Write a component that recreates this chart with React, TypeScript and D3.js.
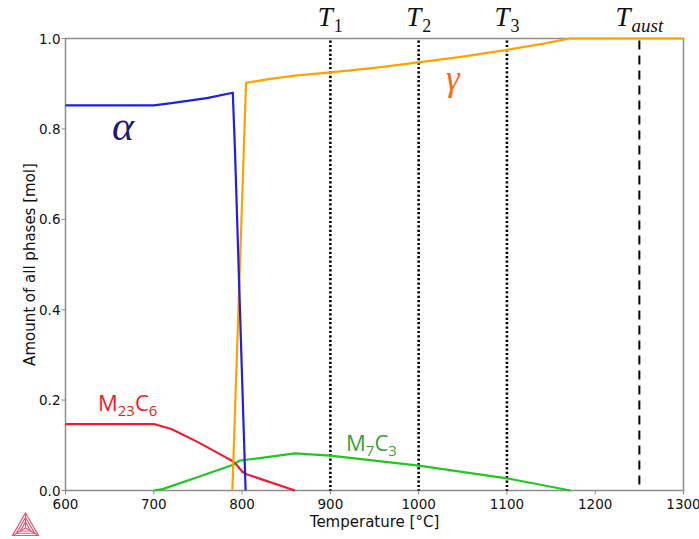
import { useEffect, useRef } from 'react';
import * as d3 from 'd3';

// temperatures [°C] and phase amounts [mol]
const alphaT = [600, 700, 720, 760, 789.5, 792, 804];
const alphaV = [0.852, 0.852, 0.857, 0.868, 0.88, 0.75, 0];

const gammaT = [789, 804.5, 830, 860, 900, 950, 1000, 1050, 1100, 1140, 1171, 1300];
const gammaV = [0, 0.902, 0.91, 0.918, 0.925, 0.935, 0.947, 0.96, 0.975, 0.988, 1.0, 1.0];

const m23c6T = [600, 700, 720, 750, 780, 790, 795, 800, 805, 860];
const m23c6V = [0.147, 0.147, 0.136, 0.107, 0.075, 0.064, 0.054, 0.042, 0.036, 0];

const m7c3T = [700, 710, 750, 790, 797, 805, 860, 900, 1000, 1100, 1172];
const m7c3V = [0, 0.003, 0.03, 0.057, 0.066, 0.068, 0.082, 0.077, 0.055, 0.027, 0];

const markerT = [900, 1000, 1100, 1250];
const markerSub = ['1', '2', '3', 'aust'];

const xTicks = [600, 700, 800, 900, 1000, 1100, 1200, 1300];
const yTicks = [0, 0.2, 0.4, 0.6, 0.8, 1.0];

export default function App() {
  const ref = useRef<SVGSVGElement | null>(null);

  useEffect(() => {
    const width = 699;
    const height = 539;
    const left = 65.5;
    const right = 683.5;
    const top = 38.5;
    const bottom = 490.5;

    const svg = d3.select(ref.current);
    svg.selectAll('*').remove();

    const x = d3.scaleLinear().domain([600, 1300]).range([left, right]);
    const y = d3.scaleLinear().domain([0, 1]).range([bottom, top]);

    const axisColor = '#8c8c8c';
    const tickFont = '"DejaVu Sans", Verdana, sans-serif';

    // frame
    svg
      .append('rect')
      .attr('x', left)
      .attr('y', top)
      .attr('width', right - left)
      .attr('height', bottom - top)
      .attr('fill', 'none')
      .attr('stroke', axisColor)
      .attr('stroke-width', 1.5);

    // x ticks
    const xg = svg.append('g');
    xg.selectAll('line')
      .data(xTicks)
      .enter()
      .append('line')
      .attr('x1', (d) => x(d))
      .attr('x2', (d) => x(d))
      .attr('y1', bottom)
      .attr('y2', bottom + 4)
      .attr('stroke', axisColor)
      .attr('stroke-width', 1);
    xg.selectAll('text')
      .data(xTicks)
      .enter()
      .append('text')
      .attr('x', (d) => x(d))
      .attr('y', bottom + 18)
      .attr('text-anchor', 'middle')
      .style('font-family', tickFont)
      .style('font-size', '13.5px')
      .style('fill', '#111')
      .text((d) => String(d));

    // y ticks
    const yg = svg.append('g');
    yg.selectAll('line')
      .data(yTicks)
      .enter()
      .append('line')
      .attr('x1', left - 4)
      .attr('x2', left)
      .attr('y1', (d) => y(d))
      .attr('y2', (d) => y(d))
      .attr('stroke', axisColor)
      .attr('stroke-width', 1);
    yg.selectAll('text')
      .data(yTicks)
      .enter()
      .append('text')
      .attr('x', left - 5)
      .attr('y', (d) => y(d) + 5)
      .attr('text-anchor', 'end')
      .style('font-family', tickFont)
      .style('font-size', '13.5px')
      .style('fill', '#111')
      .text((d) => d.toFixed(1));

    // axis titles
    svg
      .append('text')
      .attr('x', (left + right) / 2)
      .attr('y', 527)
      .attr('text-anchor', 'middle')
      .style('font-family', tickFont)
      .style('font-size', '15px')
      .style('fill', '#111')
      .text('Temperature [°C]');
    svg
      .append('text')
      .attr('transform', `translate(35,${(top + bottom) / 2}) rotate(-90)`)
      .attr('text-anchor', 'middle')
      .style('font-family', tickFont)
      .style('font-size', '15px')
      .style('fill', '#111')
      .text('Amount of all phases [mol]');

    // vertical marker lines
    markerT.forEach((t, i) => {
      const aust = i === markerT.length - 1;
      svg
        .append('line')
        .attr('x1', x(t))
        .attr('x2', x(t))
        .attr('y1', top + 2)
        .attr('y2', aust ? bottom - 6 : bottom)
        .attr('stroke', '#000')
        .attr('stroke-width', aust ? 2 : 2.6)
        .attr('stroke-dasharray', aust ? '9,6' : '2.2,2.2');
    });

    // marker labels T1, T2, T3, Taust
    const tFont = '"Liberation Serif", "DejaVu Serif", serif';
    markerT.forEach((t, i) => {
      const lbl = svg
        .append('text')
        .attr('x', x(t))
        .attr('y', 26)
        .attr('text-anchor', 'middle')
        .style('font-family', tFont)
        .style('font-style', 'italic')
        .style('font-size', '27px')
        .style('fill', '#111');
      lbl.append('tspan').text('T');
      lbl
        .append('tspan')
        .attr('dy', 6)
        .attr('dx', 1)
        .style('font-size', i === 3 ? '19px' : '18px')
        .style('font-style', i === 3 ? 'italic' : 'normal')
        .text(markerSub[i]);
    });

    // phase curves
    const line = d3
      .line<[number, number]>()
      .x((d) => x(d[0]))
      .y((d) => y(d[1]));

    const curves = [
      { t: m7c3T, v: m7c3V, color: '#1ec81e' },
      { t: m23c6T, v: m23c6V, color: '#f5172b' },
      { t: gammaT, v: gammaV, color: '#ffa200' },
      { t: alphaT, v: alphaV, color: '#1e1ee8' },
    ];
    curves.forEach((c) => {
      const pts = c.t.map((t, i) => [t, c.v[i]] as [number, number]);
      svg
        .append('path')
        .attr('d', line(pts))
        .attr('fill', 'none')
        .attr('stroke', c.color)
        .attr('stroke-width', 2.2)
        .attr('stroke-linejoin', 'round');
    });

    // phase labels
    const mathFont = '"Liberation Serif", "DejaVu Serif", serif';
    svg
      .append('text')
      .attr('x', 112)
      .attr('y', 140)
      .style('font-family', mathFont)
      .style('font-style', 'italic')
      .style('font-size', '42px')
      .style('fill', '#1b1b72')
      .text('α');
    svg
      .append('text')
      .attr('x', 446)
      .attr('y', 90)
      .style('font-family', mathFont)
      .style('font-style', 'italic')
      .style('font-size', '35px')
      .style('fill', '#ff6a10')
      .text('γ');

    const phaseFont = '"Open Sans", "Noto Sans", sans-serif';
    const m23 = svg
      .append('text')
      .attr('x', 98)
      .attr('y', 411)
      .style('font-family', phaseFont)
      .style('font-size', '22px')
      .style('fill', '#f5172b');
    m23.append('tspan').text('M');
    m23.append('tspan').attr('dy', 5).style('font-size', '15px').text('23');
    m23.append('tspan').attr('dy', -5).text('C');
    m23.append('tspan').attr('dy', 5).style('font-size', '15px').text('6');

    const m7 = svg
      .append('text')
      .attr('x', 346)
      .attr('y', 451)
      .style('font-family', phaseFont)
      .style('font-size', '22px')
      .style('fill', '#3aa03a');
    m7.append('tspan').text('M');
    m7.append('tspan').attr('dy', 5).style('font-size', '15px').text('7');
    m7.append('tspan').attr('dy', -5).text('C');
    m7.append('tspan').attr('dy', 5).style('font-size', '15px').text('3');

    // Thermo-Calc logo (bottom left)
    const logo = svg.append('g').attr('stroke', '#e05a78').attr('fill', 'none').attr('stroke-width', 1.2);
    const cx = 25.5;
    const cy = 528;
    const tri = (r: number) =>
      [0, 1, 2]
        .map((k) => {
          const a = -Math.PI / 2 + (k * 2 * Math.PI) / 3;
          return `${cx + r * Math.cos(a)},${cy + r * Math.sin(a)}`;
        })
        .join(' ');
    logo.append('polygon').attr('points', tri(15));
    logo.append('polygon').attr('points', tri(10.5));
    logo.append('polygon').attr('points', tri(6));
    [0, 1, 2].forEach((k) => {
      const a = -Math.PI / 2 + (k * 2 * Math.PI) / 3;
      logo
        .append('line')
        .attr('x1', cx)
        .attr('y1', cy)
        .attr('x2', cx + 15 * Math.cos(a))
        .attr('y2', cy + 15 * Math.sin(a));
    });

    svg.attr('width', width).attr('height', height);
  }, []);

  return (
    <svg
      ref={ref}
      width={699}
      height={539}
      style={{ position: 'absolute', left: 0, top: 0, background: '#fff' }}
    />
  );
}
